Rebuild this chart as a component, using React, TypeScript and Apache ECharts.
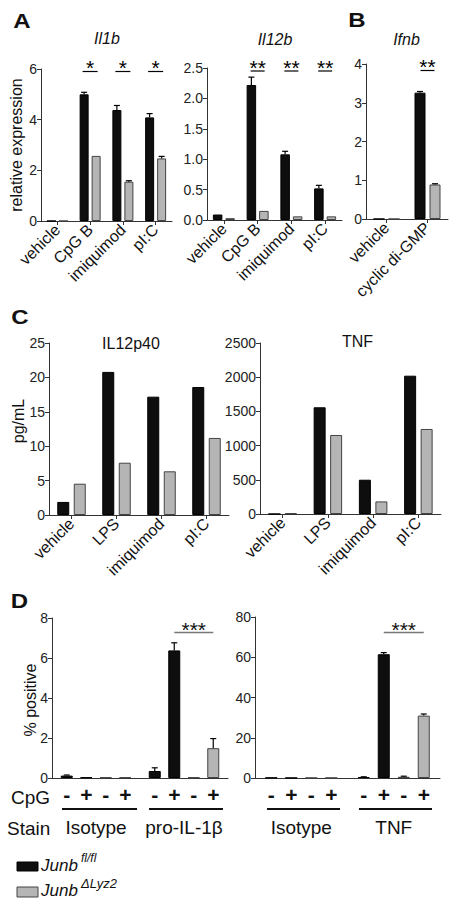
import React, { useEffect, useRef } from "react";
import * as echarts from "echarts";

// ---------- DATA ----------
const catsA = ["vehicle", "CpG B", "imiquimod", "pI:C"];
const il1bFl = [0, 5.0, 4.38, 4.09];
const il1bFlErr = [0, 0.08, 0.18, 0.15];
const il1bDl = [0, 2.57, 1.55, 2.47];
const il1bDlErr = [0, 0, 0.04, 0.08];
const il1bSig = ["", "*", "*", "*"];

const il12bFl = [0.09, 2.22, 1.08, 0.52];
const il12bFlErr = [0, 0.13, 0.05, 0.05];
const il12bDl = [0.03, 0.15, 0.06, 0.06];
const il12bDlErr = [0, 0, 0, 0];
const il12bSig = ["", "**", "**", "**"];

const catsB = ["vehicle", "cyclic di-GMP"];
const ifnbFl = [0, 3.26];
const ifnbFlErr = [0, 0.03];
const ifnbDl = [0, 0.89];
const ifnbDlErr = [0, 0.02];
const ifnbSig = ["", "**"];

const catsC = ["vehicle", "LPS", "imiquimod", "pI:C"];
const il12p40Fl = [1.9, 20.8, 17.2, 18.6];
const il12p40Dl = [4.55, 7.6, 6.35, 11.2];
const tnfFl = [0, 1560, 501, 2022];
const tnfDl = [12, 1155, 184, 1243];

const stainsL = ["Isotype", "pro-IL-1β"];
const stainsR = ["Isotype", "TNF"];
const cpgSigns = ["-", "+", "-", "+"];

const dLFlNeg = [0.12, 0.35];
const dLFlNegErr = [0.03, 0.16];
const dLFlPos = [0.03, 6.38];
const dLFlPosErr = [0, 0.38];
const dLDlNeg = [0.03, 0.03];
const dLDlNegErr = [0, 0];
const dLDlPos = [0.03, 1.49];
const dLDlPosErr = [0, 0.48];

const dRFlNeg = [0.15, 0.5];
const dRFlNegErr = [0, 0.1];
const dRFlPos = [0.05, 61.5];
const dRFlPosErr = [0, 0.8];
const dRDlNeg = [0.05, 0.6];
const dRDlNegErr = [0, 0.3];
const dRDlPos = [0.05, 31.0];
const dRDlPosErr = [0, 0.8];

const tickIl1b = { max: 6, interval: 2 };
const tickIl12b = { max: 2.5, interval: 0.5 };
const tickIfnb = { max: 4, interval: 1 };
const tickIl12p40 = { max: 25, interval: 5 };
const tickTnf = { max: 2500, interval: 500 };
const tickDL = { max: 8, interval: 2 };
const tickDR = { max: 80, interval: 20 };

// ---------- STYLE ----------
const FONT = "'Liberation Sans', Arial, Helvetica, sans-serif";
const BLACK = "#0e0e0e";
const GRAY = "#b5b5b5";
const AXIS = "#333";

const grids = [
  { left: 41, top: 69, width: 131, height: 152 },
  { left: 207, top: 68, width: 135, height: 152 },
  { left: 366, top: 64, width: 82, height: 155 },
  { left: 49, top: 343, width: 180, height: 172 },
  { left: 260, top: 343, width: 181, height: 171 },
  { left: 52, top: 618, width: 176, height: 160 },
  { left: 255, top: 617, width: 185, height: 161 },
];

function xCat(gi: number, cats: string[], isD: boolean) {
  return {
    type: "category",
    gridIndex: gi,
    data: cats,
    axisLine: { lineStyle: { color: AXIS, width: 1 } },
    axisTick: isD
      ? { show: false }
      : { show: true, alignWithLabel: true, length: 4, lineStyle: { color: AXIS } },
    axisLabel: isD
      ? { interval: 0, fontSize: 19, color: "#111", margin: 40, fontFamily: FONT }
      : { interval: 0, rotate: 45, fontSize: 16, color: "#111", margin: 6, fontFamily: FONT },
  };
}

function yVal(gi: number, t: { max: number; interval: number }, dec: number) {
  return {
    type: "value",
    gridIndex: gi,
    min: 0,
    max: t.max,
    interval: t.interval,
    axisLine: { show: true, lineStyle: { color: AXIS, width: 1 } },
    axisTick: { show: true, length: 4, lineStyle: { color: AXIS } },
    splitLine: { show: false },
    axisLabel: {
      fontSize: 14,
      color: "#222",
      margin: 4,
      fontFamily: FONT,
      formatter: (v: number) => v.toFixed(dec),
    },
  };
}

function bar(gi: number, vals: number[], color: string, w: number, gap: number, extra: any = {}) {
  const isGray = color === GRAY;
  return {
    type: "bar",
    xAxisIndex: gi,
    yAxisIndex: gi,
    data: vals,
    barWidth: w,
    barGap: (gap / w) * 100 + "%",
    itemStyle: { color, borderColor: isGray ? "#444" : "#000", borderWidth: 1 },
    z: 2,
    ...extra,
  };
}

function errBars(gi: number, vals: number[], errs: number[], off: number) {
  return {
    type: "custom",
    xAxisIndex: gi,
    yAxisIndex: gi,
    z: 3,
    data: vals.map((v, i) => [i, v, errs[i]]),
    renderItem: (params: any, api: any) => {
      const x = api.value(0);
      const m = api.value(1);
      const e = api.value(2);
      if (!(e > 0)) return null;
      const p0 = api.coord([x, m]);
      const p1 = api.coord([x, m + e]);
      const cx = p0[0] + off;
      return {
        type: "group",
        children: [
          { type: "line", shape: { x1: cx, y1: p0[1], x2: cx, y2: p1[1] }, style: { stroke: "#000", lineWidth: 1.2 } },
          { type: "line", shape: { x1: cx - 3, y1: p1[1], x2: cx + 3, y2: p1[1] }, style: { stroke: "#000", lineWidth: 1.2 } },
        ],
      };
    },
  };
}

function sigMarks(gi: number, sig: string[], lineY: number, halfW: number) {
  return {
    type: "custom",
    xAxisIndex: gi,
    yAxisIndex: gi,
    z: 4,
    clip: false,
    data: sig.map((s, i) => [i, 0]),
    renderItem: (params: any, api: any) => {
      const s = sig[params.dataIndex];
      if (!s) return null;
      const p = api.coord([api.value(0), 0]);
      return {
        type: "group",
        children: [
          { type: "line", shape: { x1: p[0] - halfW, y1: lineY, x2: p[0] + halfW, y2: lineY }, style: { stroke: "#000", lineWidth: 1.2 } },
          {
            type: "text",
            x: p[0],
            y: lineY - 4,
            style: { text: s, fontSize: 21, fontFamily: FONT, fill: "#000", align: "center", verticalAlign: "middle", textAlign: "center", textVerticalAlign: "middle" },
          },
        ],
      };
    },
  };
}

function dSig(gi: number, cat: number, offA: number, offB: number, text: string, lineY: number) {
  return {
    type: "custom",
    xAxisIndex: gi,
    yAxisIndex: gi,
    z: 4,
    clip: false,
    data: [[cat, 0]],
    renderItem: (params: any, api: any) => {
      const p = api.coord([api.value(0), 0]);
      const xa = p[0] + offA;
      const xb = p[0] + offB;
      return {
        type: "group",
        children: [
          { type: "line", shape: { x1: xa, y1: lineY, x2: xb, y2: lineY }, style: { stroke: "#777", lineWidth: 1.5 } },
          {
            type: "text",
            x: (xa + xb) / 2,
            y: lineY - 3,
            style: { text: text, fontSize: 21, fontFamily: FONT, fill: "#111", align: "center", verticalAlign: "middle", textAlign: "center", textVerticalAlign: "middle" },
          },
        ],
      };
    },
  };
}

function signLabel(sign: string) {
  return {
    label: {
      show: true,
      position: "bottom",
      distance: 6,
      formatter: () => sign,
      fontSize: 21,
      fontWeight: "bold",
      color: "#111",
      fontFamily: FONT,
    },
  };
}

function txt(text: string, x: number, y: number, size: number, opts: any = {}) {
  const { rotation, scaleX, weight, style, align } = opts;
  return {
    type: "text",
    x,
    y,
    rotation: rotation || 0,
    scaleX: scaleX || 1,
    style: {
      text,
      fontSize: size,
      fontFamily: FONT,
      fontWeight: weight || "normal",
      fontStyle: style || "normal",
      fill: "#111",
      align: align || "center",
      verticalAlign: "middle",
      textAlign: align || "center",
      textVerticalAlign: "middle",
    },
  };
}

function hline(x1: number, x2: number, y: number, w: number) {
  return { type: "line", shape: { x1, y1: y, x2, y2: y }, style: { stroke: "#111", lineWidth: w } };
}

function buildOption() {
  const series: any[] = [];
  // A Il1b
  series.push(bar(0, il1bFl, BLACK, 9, 3), bar(0, il1bDl, GRAY, 9, 3));
  series.push(errBars(0, il1bFl, il1bFlErr, -6), errBars(0, il1bDl, il1bDlErr, 6));
  series.push(sigMarks(0, il1bSig, 71.5, 7.5));
  // A Il12b
  series.push(bar(1, il12bFl, BLACK, 9.5, 3), bar(1, il12bDl, GRAY, 9.5, 3));
  series.push(errBars(1, il12bFl, il12bFlErr, -6.25), errBars(1, il12bDl, il12bDlErr, 6.25));
  series.push(sigMarks(1, il12bSig, 71, 7));
  // B Ifnb
  series.push(bar(2, ifnbFl, BLACK, 11, 4), bar(2, ifnbDl, GRAY, 11, 4));
  series.push(errBars(2, ifnbFl, ifnbFlErr, -7.5), errBars(2, ifnbDl, ifnbDlErr, 7.5));
  series.push(sigMarks(2, ifnbSig, 70.5, 7));
  // C
  series.push(bar(3, il12p40Fl, BLACK, 12, 4.5), bar(3, il12p40Dl, GRAY, 12, 4.5));
  series.push(bar(4, tnfFl, BLACK, 12, 4.5), bar(4, tnfDl, GRAY, 12, 4.5));
  // D left
  const stepL = 19.5;
  const offL = [-1.5, -0.5, 0.5, 1.5].map((k) => k * stepL);
  const dLvals = [dLFlNeg, dLFlPos, dLDlNeg, dLDlPos];
  const dLerrs = [dLFlNegErr, dLFlPosErr, dLDlNegErr, dLDlPosErr];
  dLvals.forEach((v, k) => {
    series.push(bar(5, v, k < 2 ? BLACK : GRAY, 12, stepL - 12, signLabel(cpgSigns[k])));
    series.push(errBars(5, v, dLerrs[k], offL[k]));
  });
  series.push(dSig(5, 1, offL[1], offL[3], "***", 632.5));
  // D right
  const stepR = 20;
  const offR = [-1.5, -0.5, 0.5, 1.5].map((k) => k * stepR);
  const dRvals = [dRFlNeg, dRFlPos, dRDlNeg, dRDlPos];
  const dRerrs = [dRFlNegErr, dRFlPosErr, dRDlNegErr, dRDlPosErr];
  dRvals.forEach((v, k) => {
    series.push(bar(6, v, k < 2 ? BLACK : GRAY, 12, stepR - 12, signLabel(cpgSigns[k])));
    series.push(errBars(6, v, dRerrs[k], offR[k]));
  });
  series.push(dSig(6, 1, offR[1], offR[3], "***", 632.5));

  const graphic: any[] = [
    txt("A", 22, 21.5, 20, { weight: "bold", scaleX: 1.2 }),
    txt("B", 357, 20.5, 20, { weight: "bold", scaleX: 1.2 }),
    txt("C", 20, 317.5, 20, { weight: "bold", scaleX: 1.2 }),
    txt("D", 19.5, 601.5, 20, { weight: "bold", scaleX: 1.2 }),
    txt("Il1b", 107, 38, 16, { style: "italic" }),
    txt("Il12b", 275, 39, 16, { style: "italic" }),
    txt("Ifnb", 406.5, 39, 16, { style: "italic" }),
    txt("IL12p40", 131, 343.5, 16),
    txt("TNF", 357.5, 341.5, 16),
    txt("relative expression", 16, 145, 16, { rotation: Math.PI / 2 }),
    txt("pg/mL", 18.5, 421, 16, { rotation: Math.PI / 2 }),
    txt("% positive", 30, 700, 16, { rotation: Math.PI / 2 }),
    txt("CpG", 11, 797, 19, { align: "left" }),
    txt("Stain", 7, 828, 19, { align: "left" }),
    hline(62, 137, 809, 2),
    hline(149, 223, 809, 2),
    hline(267, 340, 809, 2),
    hline(359, 432, 809, 2),
    { type: "rect", shape: { x: 17, y: 862, width: 21, height: 9 }, style: { fill: BLACK, stroke: "#000", lineWidth: 1 } },
    { type: "rect", shape: { x: 17, y: 887, width: 21, height: 10 }, style: { fill: GRAY, stroke: "#444", lineWidth: 1 } },
    txt("Junb", 41, 865, 17, { style: "italic", align: "left" }),
    txt("fl/fl", 81, 858, 12, { style: "italic", align: "left" }),
    txt("Junb", 41, 890, 17, { style: "italic", align: "left" }),
    txt("ΔLyz2", 81, 883, 13, { style: "italic", align: "left" }),
  ];

  return {
    animation: false,
    backgroundColor: "#fff",
    textStyle: { fontFamily: FONT },
    grid: grids.map((g) => ({ ...g, containLabel: false })),
    xAxis: [
      xCat(0, catsA, false),
      xCat(1, catsA, false),
      xCat(2, catsB, false),
      xCat(3, catsC, false),
      xCat(4, catsC, false),
      xCat(5, stainsL, true),
      xCat(6, stainsR, true),
    ],
    yAxis: [
      yVal(0, tickIl1b, 0),
      yVal(1, tickIl12b, 1),
      yVal(2, tickIfnb, 0),
      yVal(3, tickIl12p40, 0),
      yVal(4, tickTnf, 0),
      yVal(5, tickDL, 0),
      yVal(6, tickDR, 0),
    ],
    series,
    graphic,
  };
}

export default function App() {
  const ref = useRef<HTMLDivElement>(null);
  useEffect(() => {
    if (!ref.current) return;
    const chart = echarts.init(ref.current, undefined, { renderer: "svg" });
    chart.setOption(buildOption() as any);
    return () => chart.dispose();
  }, []);
  return (
    <div
      ref={ref}
      style={{ position: "absolute", left: 0, top: 0, width: 457, height: 906, background: "#fff" }}
    />
  );
}
